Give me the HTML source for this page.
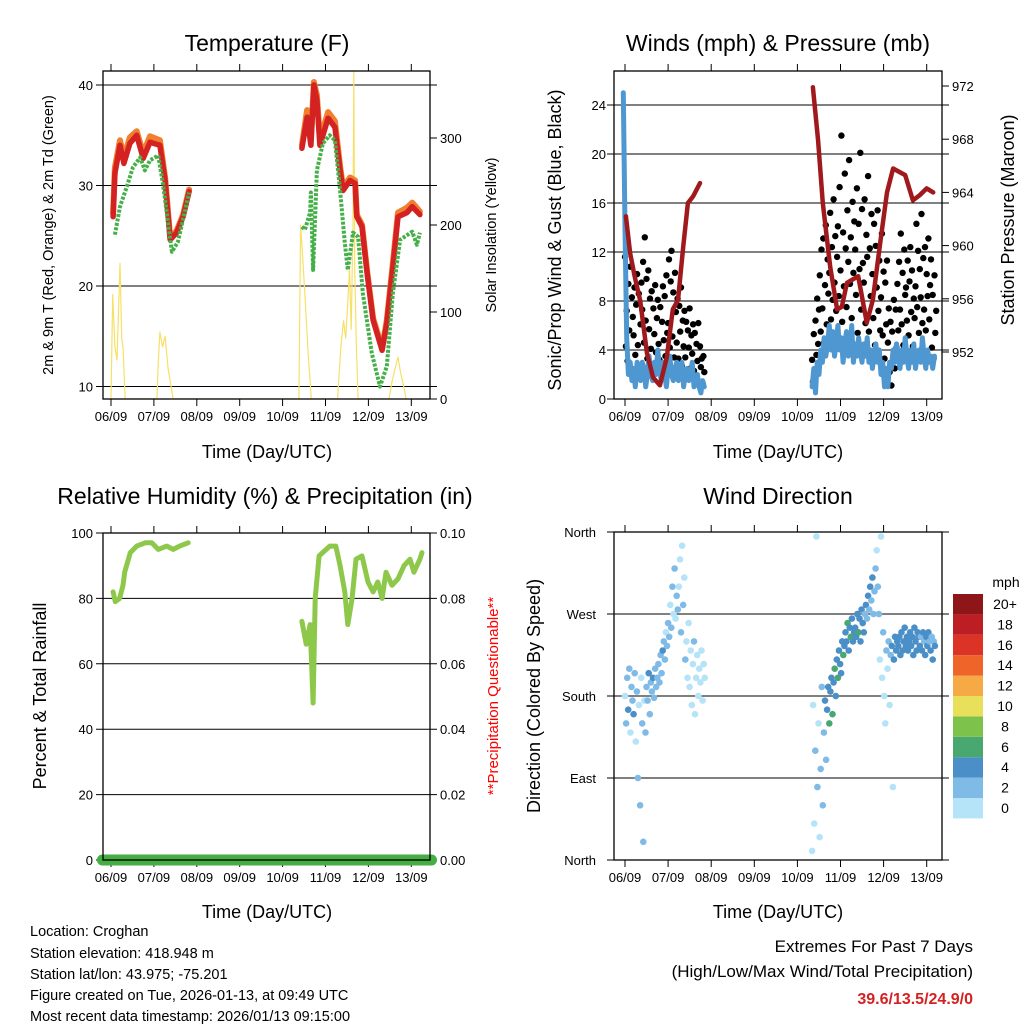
<!DOCTYPE html>
<html><head><meta charset="utf-8"><style>
html,body{margin:0;padding:0;background:#fff;}
svg{display:block;font-family:"Liberation Sans",sans-serif;}
</style></head><body>
<svg id="chart" width="1024" height="1024" viewBox="0 0 1024 1024">
<g id="layer"></g>
</svg>
<script>
// ---------- DATA ----------
const xTickLabels = ["06/09","07/09","08/09","09/09","10/09","11/09","12/09","13/09"];
const tempRedT = [[0.05,26.9],[0.09,31.2],[0.21,34.0],[0.3,32.2],[0.44,34.2],[0.6,35.0],[0.75,32.7],[0.91,34.3],[1.14,34.0],[1.26,30.5],[1.38,24.6],[1.53,25.3],[1.68,26.9],[1.82,29.4]];
const tempRedT2 = [[4.45,33.7],[4.57,36.8],[4.66,34.0],[4.73,40.0],[4.8,38.5],[4.87,34.0],[5.06,36.7],[5.22,35.8],[5.34,31.5],[5.41,29.5],[5.57,30.5],[5.69,30.2],[5.73,26.9],[5.85,25.9],[5.97,21.3],[6.11,16.6],[6.32,13.6],[6.43,16.3],[6.57,21.9],[6.69,26.9],[6.9,27.3],[7.02,27.9],[7.2,27.1]];
const tempOrange1 = [[0.05,27.2],[0.09,31.8],[0.21,34.5],[0.3,32.8],[0.44,34.8],[0.6,35.4],[0.75,33.2],[0.91,34.9],[1.14,34.5],[1.26,30.8],[1.38,24.8],[1.53,25.5],[1.68,27.1],[1.82,29.6]];
const tempOrange2 = [[4.45,34.0],[4.57,37.5],[4.66,34.5],[4.73,40.3],[4.8,39.0],[4.87,34.6],[5.06,37.3],[5.22,36.4],[5.34,31.9],[5.41,29.8],[5.57,30.8],[5.69,30.5],[5.73,27.1],[5.85,26.1],[5.97,21.5],[6.11,16.8],[6.32,13.8],[6.43,16.6],[6.57,22.3],[6.69,27.3],[6.9,27.8],[7.02,28.3],[7.2,27.4]];
const dewGreen1 = [[0.09,25.1],[0.21,27.9],[0.37,29.9],[0.51,31.8],[0.68,32.8],[0.79,31.5],[0.91,32.5],[1.1,33.0],[1.21,30.2],[1.42,23.4],[1.56,24.4],[1.82,29.3]];
const dewGreen2 = [[4.45,25.9],[4.52,25.6],[4.64,27.3],[4.66,29.3],[4.71,21.6],[4.8,31.5],[4.94,34.2],[5.1,35.0],[5.22,34.5],[5.34,29.5],[5.45,24.3],[5.52,21.6],[5.64,25.3],[5.76,24.9],[5.87,19.3],[6.08,13.3],[6.27,10.0],[6.43,12.0],[6.57,19.3],[6.74,24.6],[7.02,25.4],[7.13,24.1],[7.2,25.3]];
const solar = [[0,0],[0.04,120],[0.09,60],[0.14,45],[0.21,156],[0.25,70],[0.28,60],[0.33,0],[1.07,0],[1.1,40],[1.14,77],[1.2,60],[1.26,72],[1.33,35],[1.45,0],
  [4.38,0],[4.42,200],[4.46,170],[4.52,120],[4.6,50],[4.67,0],
  [5.28,0],[5.36,60],[5.42,90],[5.47,70],[5.52,110],[5.56,150],[5.6,80],[5.64,200],[5.66,377],[5.68,150],[5.72,60],[5.76,0],
  [6.48,0],[6.55,20],[6.62,35],[6.69,48],[6.75,30],[6.82,15],[6.88,0]];
const gustStart1 = 0.0, gustStart2 = 4.34, gustStep = 0.02;
const gust1 = [11.6,4.3,7.2,3.1,9.4,5.6,10.8,2.4,8.3,6.7, 5.2,9.1,3.6,7.7,10.2,4.4,8.6,2.3,6.1,9.5, 7.3,11.2,4.6,13.2,6.4,9.8,3.3,10.5,5.7,8.2, 4.1,8.8,2.6,7.4,5.3,9.3,3.8,6.6,8.1,4.5, 3.2,7.5,2.2,6.3,9.2,4.8,8.4,3.5,10.1,5.4, 6.2,11.4,4.2,9.6,12.1,5.1,8.7,3.4,10.3,7.1, 4.6,8.2,3.3,7.6,5.5,9.1,2.7,6.4,4.3,7.2, 3.4,6.3,2.1,5.6,4.2,7.4,2.5,5.2,3.7,6.1, 2.3,5.4,1.2,4.5,3.1,6.2,1.4,4.3,2.6,3.3, 1.3,3.5,2.2];
const gust2 = [3.2,1.4,5.3,2.1,6.4,3.6,8.2,4.5,7.3,10.1, 5.5,12.2,7.4,13.1,4.6,9.3,14.2,6.1,11.4,8.6, 10.3,15.2,6.5,12.4,8.1,16.3,9.5,13.3,7.2,11.6, 14.1,8.4,17.3,10.5,21.5,6.3,13.6,9.2,18.4,12.3, 7.5,15.4,11.2,19.5,9.4,13.2,6.6,16.1,10.3,14.5, 12.2,8.5,17.2,5.4,14.3,10.6,20.1,7.3,15.5,11.1, 9.5,16.3,6.2,13.4,11.6,18.2,5.5,12.3,8.4,15.1, 10.2,6.6,14.3,4.4,12.5,9.1,15.4,7.2,11.3,5.6, 8.3,13.5,5.2,10.4,3.3,9.5,6.1,11.3,4.6,7.4, 2.2,6.3,1.1,5.5,3.4,8.1,2.5,7.3,4.2,9.4, 5.6,11.2,7.3,13.5,6.1,10.3,4.4,12.2,8.5,9.1, 6.4,11.3,5.2,9.6,12.4,7.1,10.5,4.3,8.2,6.6, 9.2,14.3,7.5,12.1,5.4,10.6,8.3,15.1,6.2,11.5, 7.3,12.4,5.6,10.2,8.4,13.1,6.5,9.3,11.4,4.2, 8.5,3.3,10.1,5.4,7.2];
const sonicStart1 = -0.04, sonicStart2 = 4.34, sonicStep = 0.04;
const sonic1 = [25,14,5,2,3,1.5,2.5,1,3,2,1.5,3,2.5,1,2,3.5,2,1.5,3,2,4,2.5,1.5,3,2,1,2.5,3.5,2,1.5,2.5,3,1.5,2,3,1,2,2.5,1.5,2,3,1,1.5,2,1,0.5,1.5,1];
const sonic2 = [1,2.5,0.5,3,2,4,3,5,3.5,4.5,6,4,5.5,3.5,4.5,6,4,5,3,4.5,5.5,3.5,4,6,3,4.5,3.5,5,4,3,4.5,3.5,5,3,4,2.5,3.5,4.5,3,4,2,3,1,2.5,1,3,2.5,4,3,4.5,3.5,2.5,4,3,5,3.5,2.5,4,3,4.5,2.5,3.5,4,3,5,3.5,2.5,4,3,3.5,2.5,3.5];
const pressure1 = [[0.02,962.2],[0.12,959.4],[0.23,957.6],[0.35,955.9],[0.51,951.9],[0.65,950.1],[0.81,949.5],[0.97,951.6],[1.11,955.2],[1.23,955.9],[1.35,959.9],[1.46,963.2],[1.58,963.7],[1.74,964.7]];
const pressure2 = [[4.36,971.9],[4.48,967.9],[4.59,963.2],[4.76,958.4],[4.92,955.2],[5.03,955.4],[5.15,957.2],[5.41,957.7],[5.61,954.2],[5.75,955.9],[5.92,960.2],[6.08,964.0],[6.22,965.8],[6.5,965.3],[6.68,963.4],[6.84,963.8],[7.0,964.3],[7.15,964.0]];
const rh1 = [[0.05,82],[0.1,79],[0.2,80],[0.28,84],[0.32,88],[0.45,94],[0.6,96],[0.8,97],[0.95,97],[1.1,95],[1.3,96],[1.45,95],[1.6,96],[1.8,97]];
const rh2 = [[4.45,73],[4.55,66],[4.64,72],[4.71,48],[4.76,80],[4.85,93],[5.1,96],[5.24,96],[5.34,90],[5.45,82],[5.52,72],[5.62,80],[5.71,92],[5.85,93],[5.99,85],[6.11,82],[6.22,85],[6.32,80],[6.41,88],[6.55,84],[6.69,86],[6.83,90],[6.97,92],[7.06,88],[7.2,92],[7.25,94]];
const precipTotal = [[-0.2,0],[7.47,0]];
const dirStart1 = 0.0, dirStart2 = 4.34, dirStep = 0.025;
const dir1 = [180,150,200,165,210,140,190,175,160,205, 130,185,90,170,60,200,150,20,175,140, 190,175,205,160,195,185,200,178,210,190, 200,215,195,225,205,230,240,220,250,235, 260,245,280,255,300,270,320,265,290,275, 300,330,250,345,280,310,220,240,200,260, 190,230,170,215,240,160,200,225,180,210, 195,230,175,215,200];
const spd1 = [1,3,2,4.2,2,1,3,2.5,4.1,2, 1,2,3,1,2.5,1,3,2,1,2, 2,3,4.3,2.5,3,2,4.1,3,2,3, 3,2,3.5,2,3,4.2,2,3,1.5,3, 2,3,1,3,2,1,2.5,1,3,2, 1,1.5,2,1,3,1,2,1,0.5,1, 1,0.5,1.5,1,2,0.5,1,1.5,0.5,1, 1,0.5,1.5,1,0.5];
const dir2 = [10,170,40,120,355,80,150,25,100,190, 60,140,175,110,165,190,150,185,200,160, 195,210,180,220,200,230,215,205,240,225, 235,250,240,260,230,255,245,265,240,250, 255,245,270,250,265,240,275,260,250,270, 280,265,290,275,300,285,310,270,295,320, 340,300,270,220,355,200,250,180,150,230, 210,240,170,225,235,80,220,245,230,240, 235,245,225,250,230,240,255,235,245,230, 240,250,235,245,225,255,240,230,250,245, 235,245,230,250,240,225,245,235,250,240, 230,245,220,240,235];
const spd2 = [1,1.5,1,2,0.5,2,1.5,1,2.5,3, 2.5,3,4.5,2,5,4,6.5,4.5,5,6.2, 4.5,6.5,5,4,6.8,5,4.5,4,5,6.3, 4.5,5,4,6.5,4.2,5,6.4,4,5,4.5, 4,5,4.5,6.6,4,5.5,4,4.5,5,3, 4,3,4.5,2.5,4,3.5,4,2.5,3,2, 1,2,3,1,0.5,1.5,2.5,1,1.5,2, 1.5,2,1,2.5,4.5,1,4,4.5,4,5, 4.5,4,5,4.5,4,5,4.5,4,5,4, 4.5,5,4,4.5,5,4,4.5,5,4,4.5, 4,3,4.5,4,2.5,4.5,4,5,4,3, 4.5,2.5,4,3,4.5];
const cbarLabels = ["0","2","4","6","8","10","12","14","16","18","20+"];
const cbarColors = ["#b5e3f8","#7fbbe6","#4a8fc7","#48a870","#7cc24b","#e8e05a","#f6aa45","#ef6529","#dc3327","#bd1e24","#8f1618"];

// ---------- HELPERS ----------
const NS = "http://www.w3.org/2000/svg";
const root = document.getElementById("layer");
function mk(tag, attrs, parent){ const e=document.createElementNS(NS,tag); for(const k in attrs) e.setAttribute(k,attrs[k]); (parent||root).appendChild(e); return e; }
function txt(x,y,s,size,anchor,parent,extra){ const t=mk("text",Object.assign({x:x,y:y,"font-size":size,"text-anchor":anchor||"middle",fill:"#000"},extra||{}),parent); t.textContent=s; return t; }

const xA = d => 111 + 42.9*d;
const xB = d => 625 + 43.1*d;
const yTemp = v => 85 + (40-v)*10.05;
const ySolar = v => 399 - v*0.87;
const yWind = v => 399 - v*12.25;
const yPres = p => 352 - (p-952)*13.3;
const yRH = v => 860 - v*3.27;
const yPrecip = v => 860 - v*3270;
const yDir = v => 860 - v*0.911;

function frame(name, x0,x1,y0,y1, xs){
  const g = mk("g",{});  
  xTickLabels.forEach((l,i)=>{
    const x = xs(i);
    mk("line",{x1:x,x2:x,y1:y1,y2:y1+7,stroke:"#000","stroke-width":1},g);
    mk("line",{x1:x,x2:x,y1:y0,y2:y0-7,stroke:"#000","stroke-width":1},g);
    const t = txt(x,y1+22,l,13,"middle",g);
     
  });
  return g;
}
function hgrid(g,x0,x1,y){ mk("line",{x1:x0-7,x2:x1+7,y1:y,y2:y,stroke:"#000","stroke-width":1},g); }
function box(g,x0,x1,y0,y1){ mk("rect",{x:x0,y:y0,width:x1-x0,height:y1-y0,fill:"none",stroke:"#000","stroke-width":1.3},g); }
function pl(pts, xs, ys, attrs, parent, name){
  const p = mk("polyline",Object.assign({points:pts.map(q=>xs(q[0]).toFixed(1)+","+ys(q[1]).toFixed(1)).join(" "),fill:"none","stroke-linejoin":"round","stroke-linecap":"round"},attrs),parent);
    return p;
}
function idxPts(arr,start,step){ return arr.map((v,i)=>[start+i*step,v]); }
function clip(id,x0,x1,y0,y1){ const c=mk("clipPath",{id:id}); mk("rect",{x:x0,y:y0,width:x1-x0,height:y1-y0},c); }

// ---------- PANEL 1 ----------
(function(){
  const x0=103,x1=430,y0=71,y1=399;
  clip("c1",x0,x1,y0,y1);
  const g = frame("temperature-panel",x0,x1,y0,y1,xA);
  [40,30,20,10].forEach(v=>hgrid(g,x0,x1,yTemp(v)));
  [40,30,20,10].forEach(v=>{ const t=txt(x0-10,yTemp(v)+5,String(v),13,"end",g);   });
  [0,100,200,300].forEach(v=>{ mk("line",{x1:x1,x2:x1+7,y1:ySolar(v),y2:ySolar(v),stroke:"#000"},g); const t=txt(x1+10,ySolar(v)+5,String(v),13,"start",g);   });
  const d = mk("g",{"clip-path":"url(#c1)"},g);
  pl(solar,xA,ySolar,{stroke:"#f7e067","stroke-width":1.2},d,"solar-line");
  pl(tempOrange1,xA,yTemp,{stroke:"#f07f2f","stroke-width":6},d,"temp-9m-line");
  pl(tempOrange2,xA,yTemp,{stroke:"#f07f2f","stroke-width":6},d,"temp-9m-line");
  pl(tempRedT,xA,yTemp,{stroke:"#d42222","stroke-width":5.5},d,"temp-2m-line");
  pl(tempRedT2,xA,yTemp,{stroke:"#d42222","stroke-width":5.5},d,"temp-2m-line");
  pl(dewGreen1,xA,yTemp,{stroke:"#45b049","stroke-width":4,"stroke-dasharray":"3 1.5","stroke-linecap":"butt"},d,"dewpoint-line");
  pl(dewGreen2,xA,yTemp,{stroke:"#45b049","stroke-width":4,"stroke-dasharray":"3 1.5","stroke-linecap":"butt"},d,"dewpoint-line");
  box(g,x0,x1,y0,y1);
  let t=txt(267,51,"Temperature (F)",23,"middle",g);  
  t=txt(267,458,"Time (Day/UTC)",18,"middle",g);  
  t=txt(0,0,"2m & 9m T (Red, Orange) & 2m Td (Green)",14.5,"middle",g,{transform:"translate(53,235) rotate(-90)"});  
  t=txt(0,0,"Solar Insolation (Yellow)",14.5,"middle",g,{transform:"translate(496,235) rotate(-90)"});  
})();

// ---------- PANEL 2 ----------
(function(){
  const x0=614,x1=942,y0=71,y1=399;
  clip("c2",x0,x1,y0,y1);
  const g = frame("winds-panel",x0,x1,y0,y1,xB);
  [4,8,12,16,20,24].forEach(v=>hgrid(g,x0,x1,yWind(v)));
  [0,4,8,12,16,20,24].forEach(v=>{ mk("line",{x1:x0-7,x2:x0,y1:yWind(v),y2:yWind(v),stroke:"#000"},g); const t=txt(x0-8,yWind(v)+5,String(v),13,"end",g);   });
  [952,956,960,964,968,972].forEach(v=>{ mk("line",{x1:x1,x2:x1+7,y1:yPres(v),y2:yPres(v),stroke:"#000"},g); const t=txt(x1+10,yPres(v)+5,String(v),13,"start",g);   });
  const d = mk("g",{"clip-path":"url(#c2)"},g);
  [[gust1,gustStart1],[gust2,gustStart2]].forEach(s=>{
    idxPts(s[0],s[1],gustStep).forEach(q=>{
      const c=mk("circle",{cx:xB(q[0]).toFixed(1),cy:yWind(q[1]).toFixed(1),r:3.2,fill:"#000"},d);
      
      
    });
  });
  pl(idxPts(sonic1,sonicStart1,sonicStep),xB,yWind,{stroke:"#4f97d1","stroke-width":5},d,"sonic-wind-line");
  pl(idxPts(sonic2,sonicStart2,sonicStep),xB,yWind,{stroke:"#4f97d1","stroke-width":5},d,"sonic-wind-line");
  pl(pressure1,xB,yPres,{stroke:"#a0191c","stroke-width":4.5},d,"pressure-line");
  pl(pressure2,xB,yPres,{stroke:"#a0191c","stroke-width":4.5},d,"pressure-line");
  box(g,x0,x1,y0,y1);
  let t=txt(778,51,"Winds (mph) & Pressure (mb)",23,"middle",g);  
  t=txt(778,458,"Time (Day/UTC)",18,"middle",g);  
  t=txt(0,0,"Sonic/Prop Wind & Gust (Blue, Black)",18,"middle",g,{transform:"translate(561,240) rotate(-90)"});  
  t=txt(0,0,"Station Pressure (Maroon)",18,"middle",g,{transform:"translate(1014,220) rotate(-90)"});  
})();

// ---------- PANEL 3 ----------
(function(){
  const x0=103,x1=430,y0=533,y1=860;
  clip("c3",x0-10,x1+10,y0,y1+10);
  const g = frame("humidity-panel",x0,x1,y0,y1,xA);
  [100,80,60,40,20,0].forEach(v=>hgrid(g,x0,x1,yRH(v)));
  [100,80,60,40,20,0].forEach(v=>{ const t=txt(x0-10,yRH(v)+5,String(v),13,"end",g);   });
  ["0.00","0.02","0.04","0.06","0.08","0.10"].forEach(l=>{ const t=txt(x1+10,yPrecip(parseFloat(l))+5,l,13,"start",g);   });
  const d = mk("g",{"clip-path":"url(#c3)"},g);
  pl(rh1,xA,yRH,{stroke:"#8dc84b","stroke-width":5},d,"humidity-line");
  pl(rh2,xA,yRH,{stroke:"#8dc84b","stroke-width":5},d,"humidity-line");
  pl(precipTotal,xA,yPrecip,{stroke:"#46ad45","stroke-width":11},g,"precipitation-line");
  box(g,x0,x1,y0,y1);
  let t=txt(265,504,"Relative Humidity (%) & Precipitation (in)",23,"middle",g);  
  t=txt(267,918,"Time (Day/UTC)",18,"middle",g);  
  t=txt(0,0,"Percent & Total Rainfall",18,"middle",g,{transform:"translate(46,696) rotate(-90)"});  
  t=txt(0,0,"**Precipitation Questionable**",15,"middle",g,{transform:"translate(498,696) rotate(-90)",fill:"#ff0000"});  
})();

// ---------- PANEL 4 ----------
(function(){
  const x0=614,x1=942,y0=532,y1=860;
  clip("c4",x0,x1,y0,y1);
  const g = frame("wind-direction-panel",x0,x1,y0,y1,xB);
  const dl=["North","East","South","West","North"];
  [0,90,180,270,360].forEach((v,i)=>{ hgrid(g,x0,x1,yDir(v)); const t=txt(x0-18,yDir(v)+5,dl[i],13,"end",g);   });
  const d = mk("g",{"clip-path":"url(#c4)"},g);
  [[dir1,spd1,dirStart1],[dir2,spd2,dirStart2]].forEach(s=>{
    s[0].forEach((v,i)=>{
      const bin = Math.min(10,Math.floor(s[1][i]/2));
      const c=mk("circle",{cx:xB(s[2]+i*dirStep).toFixed(1),cy:yDir(v).toFixed(1),r:3.3,fill:cbarColors[bin]},d);
      
      
    });
  });
  box(g,x0,x1,y0,y1);
  const cb = mk("g",{},g);
   
  cbarColors.forEach((c,i)=>{
    const y = 798 - i*20.4;
    mk("rect",{x:953,y:y,width:30,height:20.4,fill:c},cb);
    const t=txt(1005,y+15,cbarLabels[i],14,"middle",cb);
     
  });
  let t=txt(1006,587,"mph",14,"middle",cb);  
  t=txt(778,504,"Wind Direction",23,"middle",g);  
  t=txt(778,918,"Time (Day/UTC)",18,"middle",g);  
  t=txt(0,0,"Direction (Colored By Speed)",18,"middle",g,{transform:"translate(540,696) rotate(-90)"});  
})();
</script>
<svg width="1024" height="1024" style="position:absolute;left:0;top:0">
<g font-family="Liberation Sans, sans-serif" font-size="14.5" fill="#000">
<text x="30" y="936">Location: Croghan</text>
<text x="30" y="958">Station elevation: 418.948 m</text>
<text x="30" y="979">Station lat/lon: 43.975; -75.201</text>
<text x="30" y="1000">Figure created on Tue, 2026-01-13, at 09:49 UTC</text>
<text x="30" y="1021">Most recent data timestamp: 2026/01/13 09:15:00</text>
</g>
<g font-family="Liberation Sans, sans-serif" text-anchor="end">
<text x="973" y="952" font-size="17">Extremes For Past 7 Days</text>
<text x="973" y="977" font-size="17">(High/Low/Max Wind/Total Precipitation)</text>
<text x="973" y="1004" font-size="16" font-weight="bold" fill="#d42222">39.6/13.5/24.9/0</text>
</g>
</svg>
</body></html>
